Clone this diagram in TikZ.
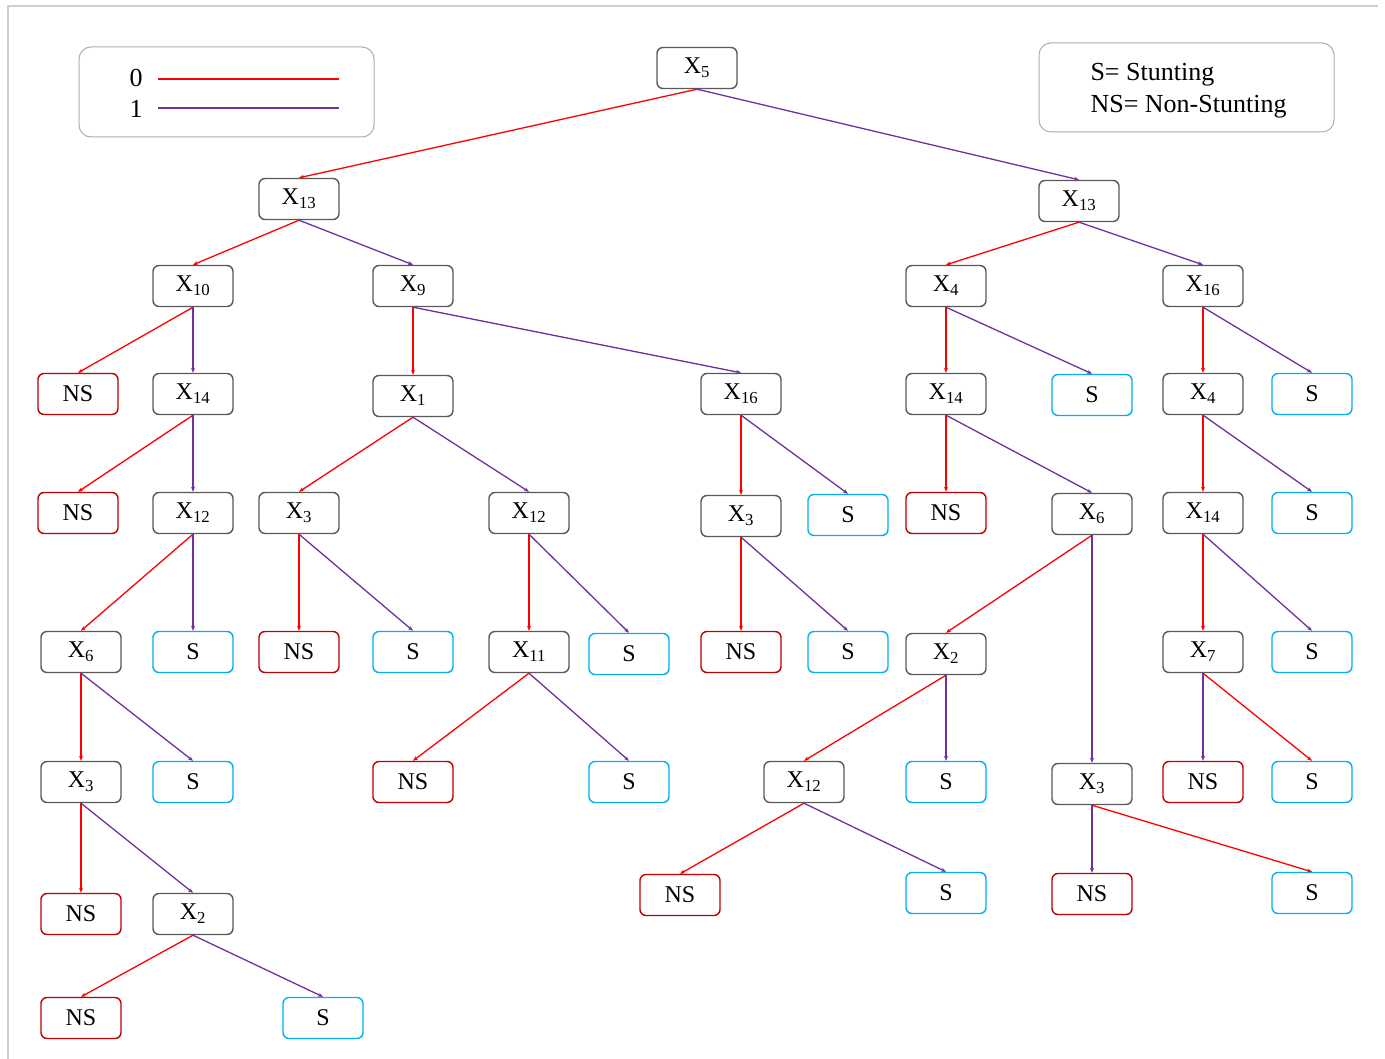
\documentclass[tikz,border=0pt]{standalone}
\usepackage{fontspec}
\setmainfont{Liberation Serif}
\usetikzlibrary{arrows.meta}
\definecolor{xgray}{HTML}{595959}
\definecolor{nsred}{HTML}{C00000}
\definecolor{scyan}{HTML}{00B0F0}
\definecolor{ezero}{HTML}{FF0000}
\definecolor{eone}{HTML}{7030A0}
\definecolor{leggray}{HTML}{A6AFBC}
\definecolor{framegray}{HTML}{CFCFCF}
\tikzset{
  base/.style={rounded corners=6pt, line width=1.4pt, minimum width=80pt, minimum height=41pt, inner sep=0pt, font=\fontsize{24}{27}\selectfont},
  xn/.style={base, draw=xgray},
  nsn/.style={base, draw=nsred},
  sn/.style={base, draw=scyan},
  zero/.style={draw=ezero, line width=1.3pt, -{Stealth[length=5pt,width=4pt]}},
  one/.style={draw=eone, line width=1.3pt, -{Stealth[length=5pt,width=4pt]}},
}
\newcommand{\xs}[2]{X\textsubscript{#2}}
\begin{document}
\begin{tikzpicture}[x=1pt,y=-1pt]
\useasboundingbox (0,0) rectangle (1385,1059);
\draw[framegray, line width=1.2pt] (8,1059) -- (8,6) -- (1378,6);
% legends
\draw[leggray, line width=1pt, rounded corners=12pt] (79,47) rectangle (374,137);
\node[font=\fontsize{26}{28}\selectfont] (l0) at (136,78) {0};
\node[font=\fontsize{26}{28}\selectfont] (l1) at (136,109) {1};
\coordinate (r0a) at (158,79); \coordinate (r0b) at (339,79);
\coordinate (r1a) at (158,108); \coordinate (r1b) at (339,108);
\draw[ezero, line width=1.6pt] (r0a) -- (r0b);
\draw[eone, line width=1.6pt] (r1a) -- (r1b);
\draw[leggray, line width=1pt, rounded corners=12pt] (1039,43) rectangle (1334,132);
\node[anchor=west, align=left, font=\fontsize{26}{32}\selectfont] (leg2) at (1087,91) {S= Stunting\\NS= Non-Stunting};
% nodes
\node[xn] (a) at (697,68) {\xs{X}{5}};
\node[xn] (b1) at (299,199) {\xs{X}{13}};
\node[xn] (b2) at (1079,201) {\xs{X}{13}};
\node[xn] (c1) at (193,286) {\xs{X}{10}};
\node[xn] (c2) at (413,286) {\xs{X}{9}};
\node[xn] (c3) at (946,286) {\xs{X}{4}};
\node[xn] (c4) at (1203,286) {\xs{X}{16}};
% row 3
\node[nsn] (d1) at (78,394) {NS};
\node[xn] (d2) at (193,394) {\xs{X}{14}};
\node[xn] (d3) at (413,396) {\xs{X}{1}};
\node[xn] (d4) at (741,394) {\xs{X}{16}};
\node[xn] (d5) at (946,394) {\xs{X}{14}};
\node[sn] (d6) at (1092,395) {S};
\node[xn] (d7) at (1203,394) {\xs{X}{4}};
\node[sn] (d8) at (1312,394) {S};
% row 4
\node[nsn] (e1) at (78,513) {NS};
\node[xn] (e2) at (193,513) {\xs{X}{12}};
\node[xn] (e3) at (299,513) {\xs{X}{3}};
\node[xn] (e4) at (529,513) {\xs{X}{12}};
\node[xn] (e5) at (741,516) {\xs{X}{3}};
\node[sn] (e6) at (848,515) {S};
\node[nsn] (e7) at (946,513) {NS};
\node[xn] (e8) at (1092,514) {\xs{X}{6}};
\node[xn] (e9) at (1203,513) {\xs{X}{14}};
\node[sn] (e10) at (1312,513) {S};
% row 5
\node[xn] (f1) at (81,652) {\xs{X}{6}};
\node[sn] (f2) at (193,652) {S};
\node[nsn] (f3) at (299,652) {NS};
\node[sn] (f4) at (413,652) {S};
\node[xn] (f5) at (529,652) {\xs{X}{11}};
\node[sn] (f6) at (629,654) {S};
\node[nsn] (f7) at (741,652) {NS};
\node[sn] (f8) at (848,652) {S};
\node[xn] (f9) at (946,654) {\xs{X}{2}};
\node[xn] (f10) at (1203,652) {\xs{X}{7}};
\node[sn] (f11) at (1312,652) {S};
% row 6
\node[xn] (g1) at (81,782) {\xs{X}{3}};
\node[sn] (g2) at (193,782) {S};
\node[nsn] (g3) at (413,782) {NS};
\node[sn] (g4) at (629,782) {S};
\node[xn] (g5) at (804,782) {\xs{X}{12}};
\node[sn] (g6) at (946,782) {S};
\node[xn] (g7) at (1092,784) {\xs{X}{3}};
\node[nsn] (g8) at (1203,782) {NS};
\node[sn] (g9) at (1312,782) {S};
% row 7
\node[nsn] (h1) at (81,914) {NS};
\node[xn] (h2) at (193,914) {\xs{X}{2}};
\node[nsn] (h3) at (680,895) {NS};
\node[sn] (h4) at (946,893) {S};
\node[nsn] (h5) at (1092,894) {NS};
\node[sn] (h6) at (1312,893) {S};
% row 8
\node[nsn] (i1) at (81,1018) {NS};
\node[sn] (i2) at (323,1018) {S};
% edges
\draw[zero] (a.south) -- (b1.north);
\draw[one] (a.south) -- (b2.north);
\draw[zero] (b1.south) -- (c1.north);
\draw[one] (b1.south) -- (c2.north);
\draw[zero] (c1.south) -- (d1.north);
\draw[one] (c1.south) -- (d2.north);
\draw[zero] (d2.south) -- (e1.north);
\draw[one] (d2.south) -- (e2.north);
\draw[zero] (e2.south) -- (f1.north);
\draw[one] (e2.south) -- (f2.north);
\draw[zero] (f1.south) -- (g1.north);
\draw[one] (f1.south) -- (g2.north);
\draw[zero] (g1.south) -- (h1.north);
\draw[one] (g1.south) -- (h2.north);
\draw[zero] (h2.south) -- (i1.north);
\draw[one] (h2.south) -- (i2.north);
\draw[zero] (c2.south) -- (d3.north);
\draw[one] (c2.south) -- (d4.north);
\draw[zero] (d3.south) -- (e3.north);
\draw[one] (d3.south) -- (e4.north);
\draw[zero] (e3.south) -- (f3.north);
\draw[one] (e3.south) -- (f4.north);
\draw[zero] (e4.south) -- (f5.north);
\draw[one] (e4.south) -- (f6.north);
\draw[zero] (f5.south) -- (g3.north);
\draw[one] (f5.south) -- (g4.north);
\draw[zero] (d4.south) -- (e5.north);
\draw[one] (d4.south) -- (e6.north);
\draw[zero] (e5.south) -- (f7.north);
\draw[one] (e5.south) -- (f8.north);
\draw[zero] (b2.south) -- (c3.north);
\draw[one] (b2.south) -- (c4.north);
\draw[zero] (c3.south) -- (d5.north);
\draw[one] (c3.south) -- (d6.north);
\draw[zero] (d5.south) -- (e7.north);
\draw[one] (d5.south) -- (e8.north);
\draw[zero] (e8.south) -- (f9.north);
\draw[one] (e8.south) -- (g7.north);
\draw[zero] (f9.south) -- (g5.north);
\draw[one] (f9.south) -- (g6.north);
\draw[zero] (g5.south) -- (h3.north);
\draw[one] (g5.south) -- (h4.north);
\draw[one] (g7.south) -- (h5.north);
\draw[zero] (g7.south) -- (h6.north);
\draw[zero] (c4.south) -- (d7.north);
\draw[one] (c4.south) -- (d8.north);
\draw[zero] (d7.south) -- (e9.north);
\draw[one] (d7.south) -- (e10.north);
\draw[zero] (e9.south) -- (f10.north);
\draw[one] (e9.south) -- (f11.north);
\draw[one] (f10.south) -- (g8.north);
\draw[zero] (f10.south) -- (g9.north);
\end{tikzpicture}
\end{document}
